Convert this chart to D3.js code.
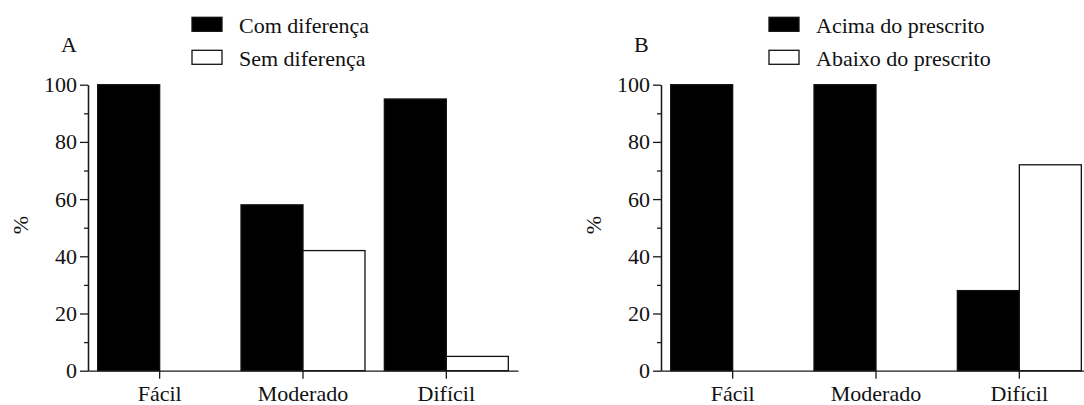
<!DOCTYPE html>
<html>
<head>
<meta charset="utf-8">
<script src="https://cdn.jsdelivr.net/npm/d3@7"></script>
<style>
  body { margin: 0; background: #fff; }
  svg text { font-family: "Liberation Serif", "DejaVu Serif", serif !important; }
  .axis path, .axis line { stroke: #1a1a1a; stroke-width: 1.3; }
  .axis text { fill: #111; font-size: 22px; }
</style>
</head>
<body>
<svg></svg>
<script>
var w = 1084, h = 405;

// data
var categories = ["Fácil", "Moderado", "Difícil"];
var seriesA = ["Com diferença", "Sem diferença"];
var comDiferenca = [100, 58, 95];
var semDiferenca = [0, 42, 5];
var seriesB = ["Acima do prescrito", "Abaixo do prescrito"];
var acimaPrescrito = [100, 100, 28];
var abaixoPrescrito = [0, 0, 72];
var yTicks = [0, 20, 40, 60, 80, 100];
var yMinorTicks = [10, 30, 50, 70, 90];
var seriesFill = ["#000", "#fff"];

var svg = d3.select("svg")
  .attr("width", w)
  .attr("height", h)
  .attr("font-family", "Liberation Serif, serif");

var y = d3.scaleLinear()
  .domain([0, 100])
  .range([370.7, 84.7]);

function drawPanel(opts) {
  var g = svg.append("g");

  var x = d3.scaleBand()
    .domain(categories)
    .range([opts.left, opts.left + 430])
    .paddingInner(0.135)
    .paddingOuter(0.0675);

  var xs = d3.scaleBand()
    .domain([0, 1])
    .range([0, x.bandwidth()]);

  // bars
  opts.values.forEach(function(vals, s) {
    g.selectAll(".bar" + s)
      .data(vals)
      .enter()
      .append("rect")
      .attr("x", function(d, i) { return x(categories[i]) + xs(s); })
      .attr("y", function(d) { return y(d); })
      .attr("width", xs.bandwidth())
      .attr("height", function(d) { return y(0) - y(d); })
      .attr("fill", seriesFill[s])
      .attr("stroke", "#111")
      .attr("stroke-width", 1.3)
      .attr("visibility", function(d) { return d > 0 ? "visible" : "hidden"; });
  });

  // y axis, minor ticks first
  g.append("g")
    .attr("class", "axis")
    .attr("transform", "translate(" + opts.left + ",0)")
    .call(d3.axisLeft(y).tickValues(yMinorTicks).tickSize(4).tickSizeOuter(0).tickFormat(""));

  g.append("g")
    .attr("class", "axis")
    .attr("transform", "translate(" + opts.left + ",0)")
    .call(d3.axisLeft(y).tickValues(yTicks).tickSize(8).tickSizeOuter(0).tickPadding(3));

  g.append("g")
    .attr("class", "axis")
    .attr("transform", "translate(0," + y(0) + ")")
    .call(d3.axisBottom(x).tickSize(8).tickSizeOuter(0).tickPadding(7));

  g.selectAll(".axis").attr("font-family", null);

  // y title
  g.append("text")
    .attr("transform", "translate(" + (opts.left - 60) + ",225) rotate(-90)")
    .attr("text-anchor", "middle")
    .style("font-size", "22px")
    .attr("fill", "#111")
    .text("%");

  // panel letter
  g.append("text")
    .attr("x", opts.left - 27)
    .attr("y", 52.3)
    .style("font-size", "22px")
    .attr("fill", "#111")
    .text(opts.letter);

  // legend
  var leg = g.selectAll(".leg")
    .data(opts.series)
    .enter()
    .append("g")
    .attr("transform", function(d, i) { return "translate(" + opts.legendX + "," + (17.3 + i * 33) + ")"; });

  leg.append("rect")
    .attr("width", 30)
    .attr("height", 14)
    .attr("fill", function(d, i) { return seriesFill[i]; })
    .attr("stroke", "#111")
    .attr("stroke-width", 1.3);

  leg.append("text")
    .attr("x", 47)
    .attr("y", 15.4)
    .style("font-size", "22px")
    .attr("fill", "#111")
    .text(function(d) { return d; });
}

drawPanel({ left: 88, letter: "A", series: seriesA, values: [comDiferenca, semDiferenca], legendX: 192 });
drawPanel({ left: 661, letter: "B", series: seriesB, values: [acimaPrescrito, abaixoPrescrito], legendX: 769 });
</script>
</body>
</html>
